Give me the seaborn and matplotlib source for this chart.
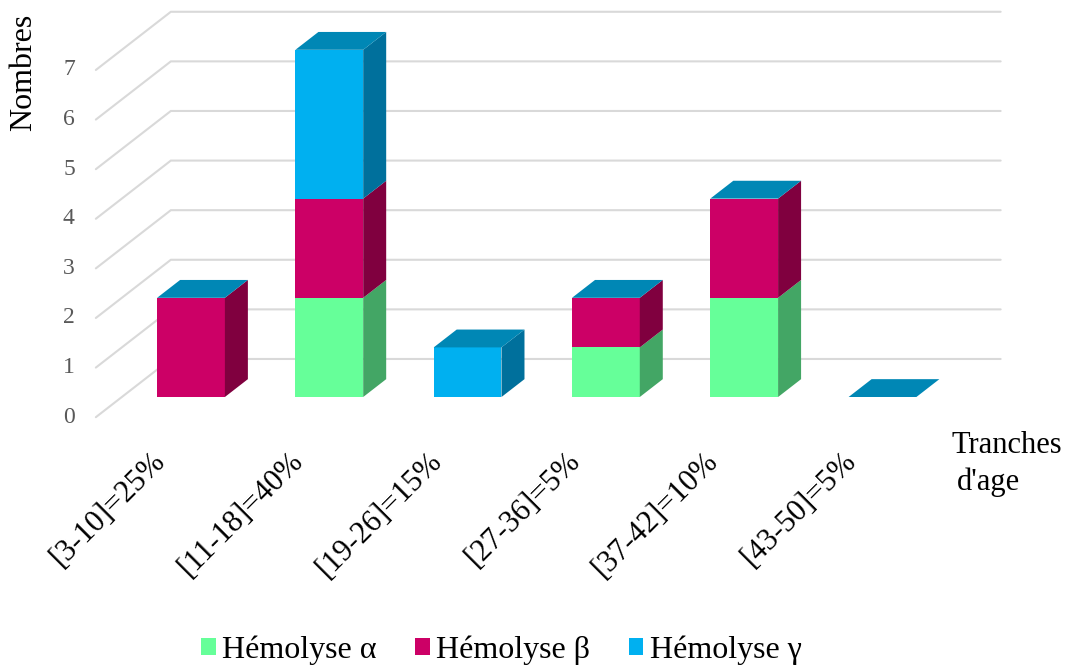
import matplotlib
matplotlib.use("Agg")
import matplotlib.pyplot as plt
from matplotlib.patches import Polygon, Patch
import pandas as pd
import seaborn as sns

# ---- data -----------------------------------------------------------------
categories = ["[3-10]=25%", "[11-18]=40%", "[19-26]=15%",
              "[27-36]=5%", "[37-42]=10%", "[43-50]=5%"]
hemolyse_alpha = [0, 2, 0, 1, 2, 0]
hemolyse_beta = [2, 2, 0, 1, 2, 0]
hemolyse_gamma = [0, 3, 1, 0, 0, 0]
series_names = ["Hémolyse α", "Hémolyse β", "Hémolyse γ"]
y_ticks = [0, 1, 2, 3, 4, 5, 6, 7]

# ---- style ----------------------------------------------------------------
front_colors = ["#66FF99", "#CC0066", "#00B0F0"]
side_colors = ["#43A665", "#80003F", "#00709C"]
top_color = "#0087B5"
grid_color = "#D9D9D9"
tick_color = "#595959"

sns.set_theme(style="white")
plt.rcParams["font.family"] = ["Liberation Serif", "DejaVu Serif"]
plt.rcParams["text.color"] = "black"

W, H = 1074, 669
fig = plt.figure(figsize=(W / 100, H / 100), dpi=100)
ax = fig.add_axes([0, 0, 1, 1])

# screen scale of the front plane (pixels per category step / per unit)
PX_X = 138.3
PX_Y = 49.6
ORIGIN_X, ORIGIN_Y = 191, 397          # pixel of category 0, value 0

# oblique depth: each depth step moves 1 px right and 0.776 px up
DEPTH_DX = 1.0 / PX_X
DEPTH_DY = 0.776 / PX_Y
BAR_DEPTH = 23
FLOOR_FRONT, FLOOR_BACK = -26, 49
BAR_WIDTH = 0.49


def proj(x, v, d):
    """Oblique projection of (category x, value v, depth d) to data coords."""
    return (x + d * DEPTH_DX, v + d * DEPTH_DY)


# ---- stacked front faces (drawn tallest first) -----------------------------
cum_ab = [a + b for a, b in zip(hemolyse_alpha, hemolyse_beta)]
cum_abg = [s + g for s, g in zip(cum_ab, hemolyse_gamma)]
df = pd.DataFrame({"tranche": categories, "alpha": hemolyse_alpha,
                   "alpha_beta": cum_ab, "total": cum_abg})

for col, color in zip(["total", "alpha_beta", "alpha"], front_colors[::-1]):
    sns.barplot(data=df, x="tranche", y=col, order=categories, color=color,
                saturation=1, width=BAR_WIDTH, errorbar=None, linewidth=0,
                ax=ax, zorder=3)

# ---- side and top faces ---------------------------------------------------
series = [hemolyse_alpha, hemolyse_beta, hemolyse_gamma]
for i in range(len(categories)):
    xl, xr = i - BAR_WIDTH / 2, i + BAR_WIDTH / 2
    bottom = 0
    for k, vals in enumerate(series):
        v = vals[i]
        if v > 0:
            top = bottom + v
            pts = [proj(xr, bottom, 0), proj(xr, top, 0),
                   proj(xr, top, BAR_DEPTH), proj(xr, bottom, BAR_DEPTH)]
            ax.add_patch(Polygon(pts, closed=True, facecolor=side_colors[k],
                                 edgecolor="none", zorder=3))
            bottom = top
    t = cum_abg[i]
    pts = [proj(xl, t, 0), proj(xr, t, 0),
           proj(xr, t, BAR_DEPTH), proj(xl, t, BAR_DEPTH)]
    ax.add_patch(Polygon(pts, closed=True, facecolor=top_color,
                         edgecolor="none", zorder=3))

# ---- walls: gridlines and value labels ------------------------------------
x_left, x_right = -0.5, len(categories) - 0.5
for v in y_ticks:
    p0 = proj(x_left, v, FLOOR_FRONT)
    p1 = proj(x_left, v, FLOOR_BACK)
    p2 = proj(x_right, v, FLOOR_BACK)
    ax.plot([p0[0], p1[0], p2[0]], [p0[1], p1[1], p2[1]],
            color=grid_color, lw=1.5, zorder=1, solid_joinstyle="miter")
    ax.text(p0[0] - 21 / PX_X, p0[1], str(v), ha="right", va="center",
            fontsize=17, color=tick_color)

# ---- category labels ------------------------------------------------------
label_y = (ORIGIN_Y - 446) / PX_Y
for i, lab in enumerate(categories):
    ax.text(i - 20 / PX_X, label_y, lab, rotation=45, ha="right", va="top",
            fontsize=22, color="black")

ax.set_xlim(-ORIGIN_X / PX_X, (W - ORIGIN_X) / PX_X)
ax.set_ylim((ORIGIN_Y - H) / PX_Y, ORIGIN_Y / PX_Y)
ax.set_axis_off()

# ---- axis titles ----------------------------------------------------------
fig.text(24 / W, 1 - 72 / H, "Nombres", rotation=90, ha="center",
         va="center", fontsize=23, color="black")
fig.text(951 / W, 1 - 453 / H, "Tranches", ha="left", va="baseline",
         fontsize=22, color="black")
fig.text(957 / W, 1 - 490 / H, "d'age", ha="left", va="baseline",
         fontsize=22, color="black")

# ---- legend ---------------------------------------------------------------
handles = [Patch(facecolor=c, edgecolor="none") for c in front_colors]
fig.legend(handles, series_names, loc="center", bbox_to_anchor=(0.467, 0.028),
           ncol=3, frameon=False, fontsize=23, handlelength=0.46,
           handleheight=0.46, handletextpad=0.2, columnspacing=1.2,
           borderpad=0, labelcolor="black")

fig.savefig("out.png", dpi=100)
